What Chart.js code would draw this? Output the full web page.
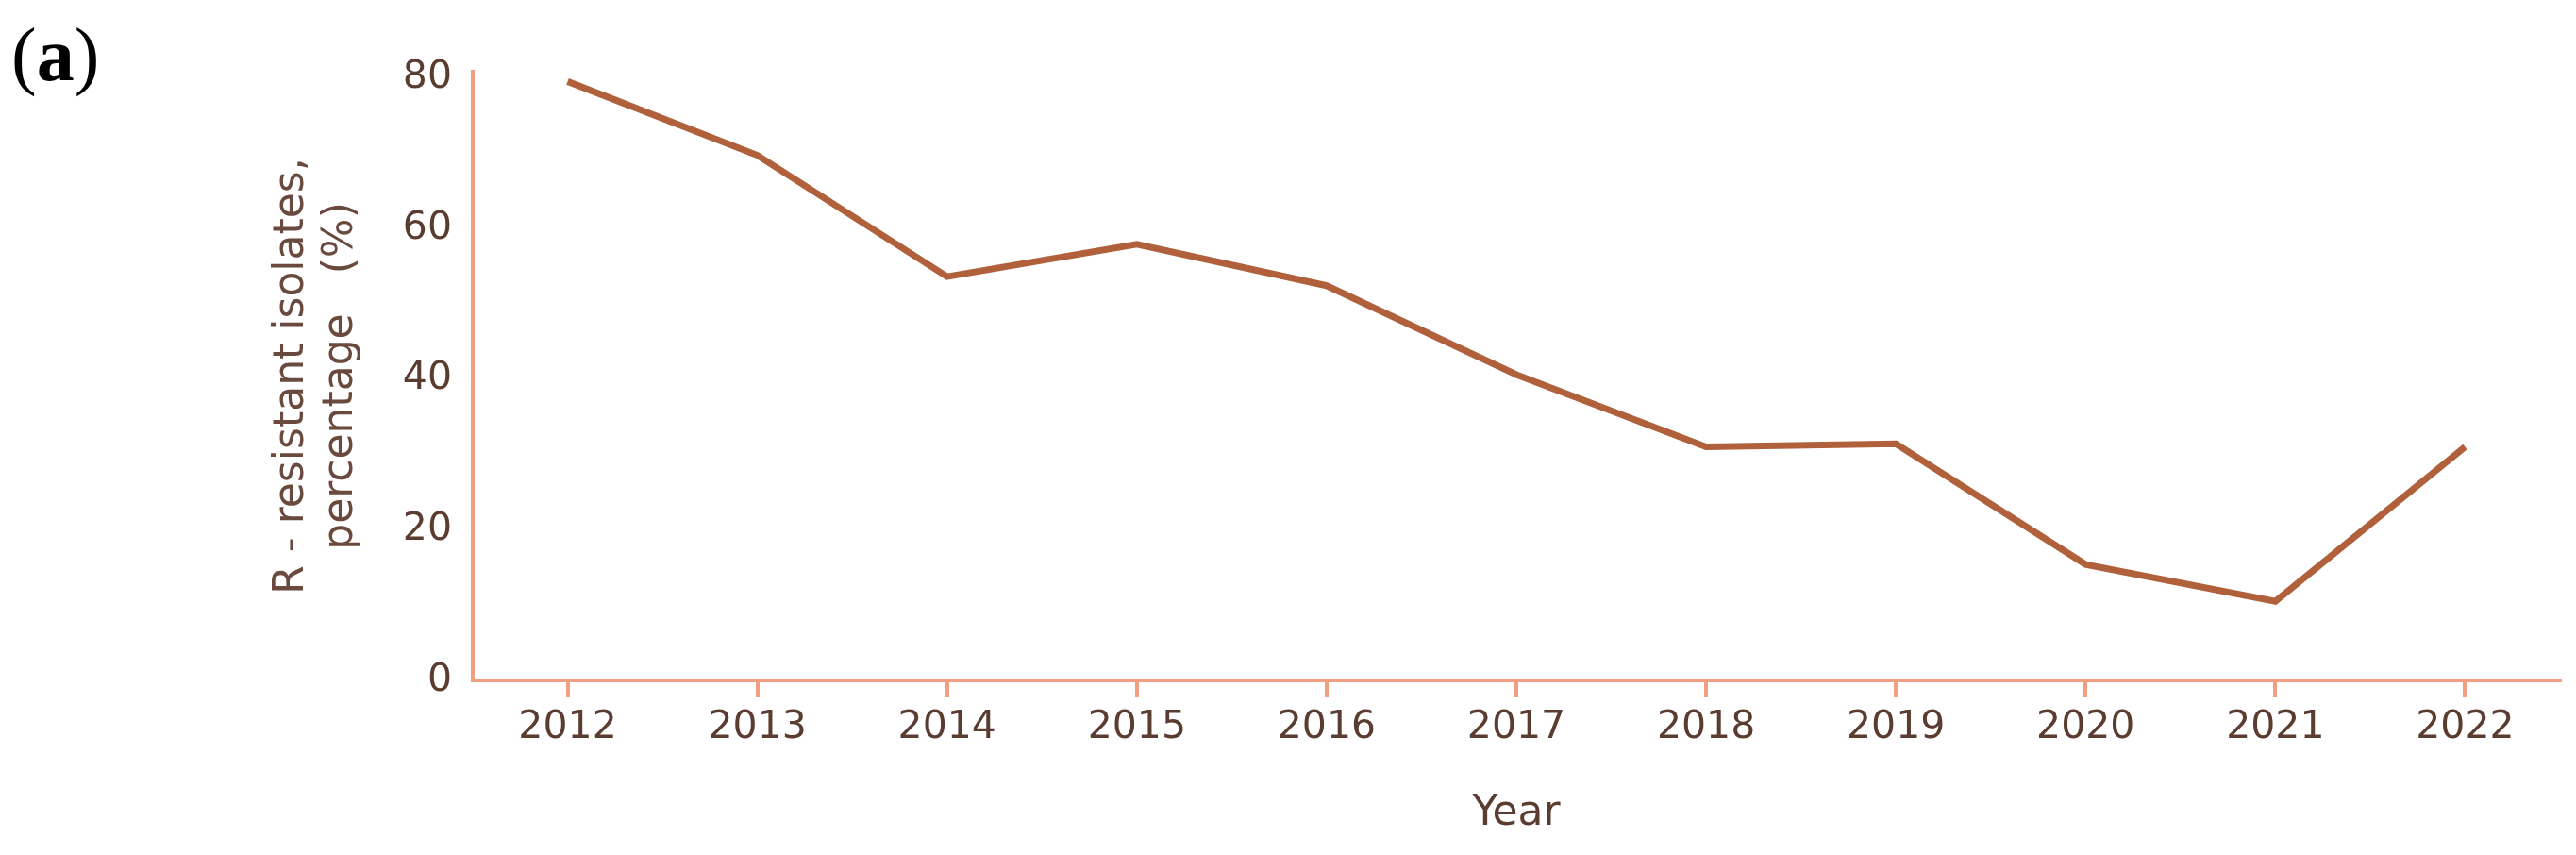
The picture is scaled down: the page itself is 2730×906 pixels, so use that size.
<!DOCTYPE html>
<html>
<head>
<meta charset="utf-8">
<script src="https://cdn.jsdelivr.net/npm/chart.js@4/dist/chart.umd.min.js"></script>
<style>
  html, body { margin: 0; padding: 0; background: #fff; }
  #wrap { width: 2730px; height: 906px; position: relative; }
</style>
</head>
<body>
<div id="wrap"><canvas id="resistance-chart"></canvas></div>
<script>
// ====== Data
const years = ["2012", "2013", "2014", "2015", "2016", "2017", "2018", "2019", "2020", "2021", "2022"];
const resistantPct = [79.5, 69.7, 53.6, 57.9, 52.4, 40.6, 31.0, 31.4, 15.4, 10.5, 31.0];
const yTicks = [0, 20, 40, 60, 80];
const yTitle = ["R - resistant isolates,", "percentage   (%)"];
const xTitle = "Year";
const panelLabel = "(a)";

const axisColor = "#F0A080";
const lineColor = "#B0613B";
const textColor = "#5A3C30";
const fontFamily = "'DejaVu Sans', Verdana, sans-serif";

// ====== Panel label "(a)"
const panelLabelPlugin = {
  id: "panelLabel",
  afterDraw: (chart) => {
    const { ctx } = chart;
    ctx.save();
    ctx.fillStyle = "#000";
    ctx.textBaseline = "alphabetic";
    ctx.textAlign = "left";
    let x = 12;
    const y = 85;
    const regular = "80px 'Liberation Serif', 'Times New Roman', serif";
    const bold = "bold 80px 'Liberation Serif', 'Times New Roman', serif";
    ctx.font = regular;
    ctx.fillText(panelLabel[0], x, y);
    x += ctx.measureText(panelLabel[0]).width;
    ctx.font = bold;
    ctx.fillText(panelLabel[1], x, y);
    x += ctx.measureText(panelLabel[1]).width;
    ctx.font = regular;
    ctx.fillText(panelLabel[2], x, y);
    ctx.restore();
  },
};

const ctx = document.getElementById("resistance-chart").getContext("2d");

new Chart(ctx, {
  type: "line",
  data: {
    labels: years,
    datasets: [{
      data: resistantPct,
      borderColor: lineColor,
      borderWidth: 7,
      pointRadius: 0,
      tension: 0,
      fill: false,
    }],
  },
  options: {
    responsive: true,
    maintainAspectRatio: false,
    animation: false,
    layout: { padding: { top: 76, right: 17, bottom: 0, left: 0 } },
    plugins: {
      legend: { display: false },
      tooltip: { enabled: false },
    },
    scales: {
      x: {
        type: "category",
        offset: true,
        grid: {
          display: true,
          drawOnChartArea: false,
          drawTicks: true,
          tickLength: 18,
          offset: false,
          color: axisColor,
          lineWidth: 4,
        },
        border: { display: true, color: axisColor, width: 4 },
        ticks: {
          color: textColor,
          padding: 8,
          maxRotation: 0,
          font: { family: fontFamily, size: 41 },
        },
        title: {
          display: true,
          text: xTitle,
          color: textColor,
          padding: { top: 0, bottom: 17 },
          font: { family: fontFamily, size: 44, lineHeight: 1.2 },
        },
        afterFit: (scale) => { scale.height = 185; },
      },
      y: {
        min: 0,
        max: 80.8,
        grid: { display: false, drawTicks: false },
        border: { display: true, color: axisColor, width: 4 },
        ticks: {
          color: textColor,
          padding: 22,
          includeBounds: false,
          stepSize: 20,
          font: { family: fontFamily, size: 41 },
        },
        afterBuildTicks: (scale) => {
          scale.ticks = yTicks.map(v => ({ value: v }));
        },
        title: {
          display: true,
          text: yTitle,
          color: "#6A4A3E",
          padding: { top: 284, bottom: 0 },
          font: { family: fontFamily, size: 44, lineHeight: 1.18 },
        },
        afterFit: (scale) => { scale.width = 501; },
      },
    },
  },
  plugins: [panelLabelPlugin],
});
</script>
</body>
</html>
